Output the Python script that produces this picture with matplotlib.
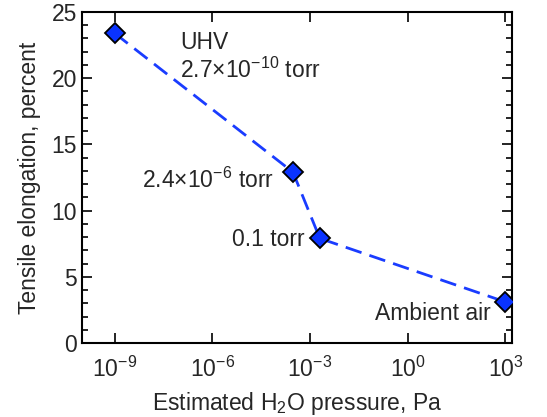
import matplotlib.pyplot as plt
from matplotlib.ticker import FixedLocator, MultipleLocator

plt.rcParams['font.family'] = ['Liberation Sans', 'DejaVu Sans']
plt.rcParams['mathtext.fontset'] = 'custom'
plt.rcParams['mathtext.rm'] = 'Liberation Sans'
plt.rcParams['mathtext.it'] = 'Liberation Sans:italic'

# data
pressure = [1e-9, 3e-4, 2e-3, 1e3]          # Pa
elongation = [23.4, 12.9, 7.9, 3.1]         # percent
x_ticks = [1e-9, 1e-6, 1e-3, 1e0, 1e3]
x_tick_labels = ['$10^{-9}$', '$10^{-6}$', '$10^{-3}$', '$10^{0}$', '$10^{3}$']

txt = '#262626'

fig = plt.figure(figsize=(5.47, 4.17), dpi=100, facecolor='white')
ax = fig.add_axes([82/547, 1-343/417, (512-82)/547, (343-12)/417])

ax.plot(pressure, elongation, linestyle=(0, (6, 3)), color='#1a3cff', linewidth=2,
        marker='D', markersize=10, markerfacecolor='#0a33ff', markeredgecolor='black',
        markeredgewidth=1.3, zorder=3)

ax.set_xscale('log')
ax.set_xlim(10**-10, 10**3.2)
ax.set_ylim(0, 25)

ax.xaxis.set_major_locator(FixedLocator(x_ticks))
ax.xaxis.set_minor_locator(FixedLocator([]))
ax.set_xticklabels(x_tick_labels)
ax.yaxis.set_major_locator(MultipleLocator(5))
ax.yaxis.set_minor_locator(MultipleLocator(1))

ax.tick_params(which='both', direction='in', top=True, right=True, labelsize=16.5,
               labelcolor=txt, width=1.2)
ax.tick_params(which='major', length=7)
ax.tick_params(which='minor', length=4)
ax.tick_params(axis='x', pad=10)
for s in ax.spines.values():
    s.set_linewidth(1.5)

ax.set_xlabel('Estimated H$_2$O pressure, Pa', fontsize=16.5, color=txt, labelpad=6)
ax.set_ylabel('Tensile elongation, percent', fontsize=16.5, color=txt, labelpad=8)

# annotations
ax.text(1.05e-7, 22.7, 'UHV', fontsize=16.5, color=txt, ha='left', va='center')
ax.text(1.05e-7, 20.6, '2.7×10$^{-10}$ torr', fontsize=16.5, color=txt, ha='left', va='center')
ax.text(10**-4.12, 12.3, '2.4×10$^{-6}$ torr', fontsize=16.5, color=txt, ha='right', va='center')
ax.text(10**-3.17, 7.85, '0.1 torr', fontsize=16.5, color=txt, ha='right', va='center')
ax.text(10**2.56, 2.2, 'Ambient air', fontsize=16.5, color=txt, ha='right', va='center')

plt.savefig('out.png', dpi=100)
plt.close()
